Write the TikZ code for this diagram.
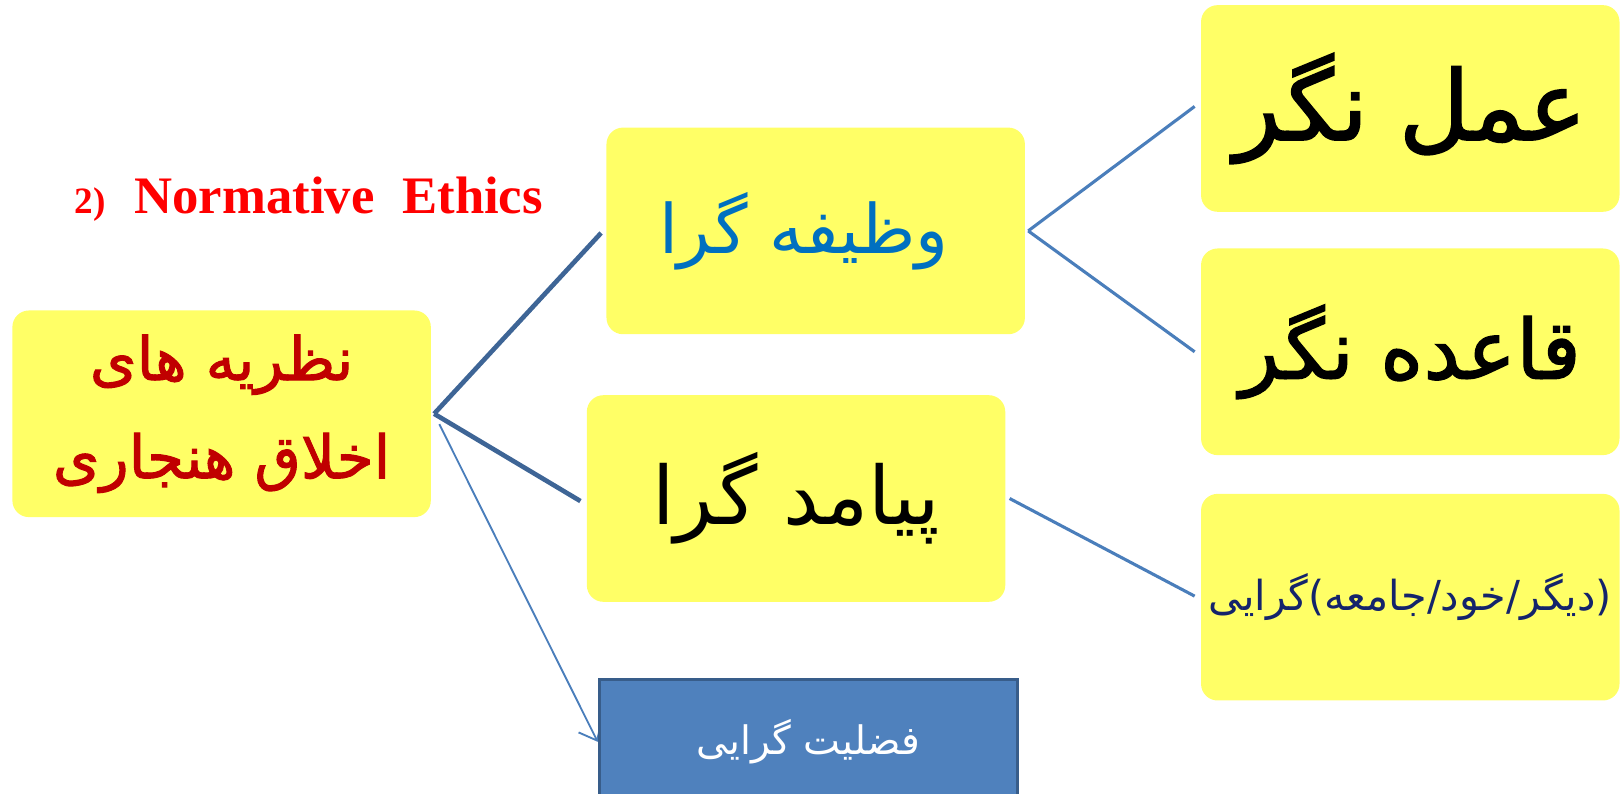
\documentclass[tikz,border=0pt]{standalone}
\usepackage{fontspec}
\setmainfont{Liberation Serif}
\newfontfamily\arabicfont[Script=Arabic]{DejaVu Sans}
\newfontfamily\arabicheavy[Script=Arabic,FakeBold=1.6]{DejaVu Sans}
\TeXXeTstate=1
\usetikzlibrary{arrows.meta,backgrounds}
\definecolor{boxyellow}{HTML}{FFFF66}
\definecolor{rootred}{HTML}{C00000}
\definecolor{dutyblue}{HTML}{0070C0}
\definecolor{navytext}{HTML}{14246B}
\definecolor{darkline}{HTML}{3E6596}
\definecolor{lightline}{HTML}{4A7EBB}
\definecolor{virtuefill}{HTML}{4F81BD}
\definecolor{virtueedge}{HTML}{385D8A}
\definecolor{titlered}{HTML}{FF0000}
\tikzset{
  ybox/.style={fill=boxyellow, draw=none, rounded corners=16pt, minimum width=405pt,
    minimum height=200pt, inner sep=0pt, align=center},
  vbox/.style={fill=virtuefill, draw=virtueedge, line width=3pt, minimum width=405pt,
    minimum height=120pt, inner sep=0pt, align=center, text=white},
  thickconn/.style={draw=darkline, line width=4.5pt},
  thinconn/.style={draw=lightline, line width=3pt},
  arrowconn/.style={draw=lightline, line width=1.8pt, -{Straight Barb[length=15pt,width=25pt,line width=1.8pt]}}
}
\begin{document}
\begin{tikzpicture}[x=1pt,y=-1pt]
\useasboundingbox (0,0) rectangle (1568,767.6);
% title
\node[anchor=base west, text=titlered, inner sep=0pt] (title) at (72,207)
  {\bfseries\fontsize{36}{40}\selectfont 2)\hspace{28pt}\fontsize{51}{60}\selectfont Normative\hspace{27pt}Ethics};
% boxes
\node[ybox, text=rootred, font=\fontsize{58}{95}\selectfont\arabicheavy] (root) at (214.5,400.5)
  {\beginR نظریه های\endR\\\beginR اخلاق هنجاری\endR};
\node[ybox, text=dutyblue, font=\fontsize{66}{75}\selectfont\arabicfont] (duty) at (789.5,223.5)
  {\beginR وظیفه گرا\endR\kern23pt};
\node[ybox, text=black, font=\fontsize{78}{88}\selectfont\arabicfont] (conseq) at (770.5,482.5)
  {\beginR پیامد گرا\endR};
\node[vbox, font=\fontsize{38}{44}\selectfont\arabicfont] (virtue) at (782.5,718)
  {\beginR فضلیت گرایی\endR};
\node[ybox, text=black, font=\fontsize{94}{100}\selectfont\arabicheavy] (act) at (1365,105)
  {\beginR عمل نگر\endR};
\node[ybox, text=black, font=\fontsize{80}{88}\selectfont\arabicheavy] (rule) at (1365,340.5)
  {\beginR قاعده نگر\endR};
\node[ybox, text=navytext, font=\fontsize{40}{48}\selectfont\arabicfont] (other) at (1365,578)
  {\beginR (دیگر/خود/جامعه)گرایی\endR};
% connectors
\coordinate (hub) at ([xshift=3pt]root.east);
\coordinate (hubb) at ([xshift=8pt,yshift=-10pt]root.east);
\begin{scope}[on background layer]
\draw[thickconn] (hub) -- ([xshift=-5pt,yshift=-2pt]duty.west);
\draw[thickconn] (hub) -- ([xshift=-6pt,yshift=-2.5pt]conseq.west);
\draw[arrowconn] (hubb) -- ([xshift=0pt,yshift=0pt]virtue.west);
\draw[thinconn] ([xshift=3pt]duty.east) -- ([xshift=-6pt,yshift=2pt]act.west);
\draw[thinconn] ([xshift=3pt]duty.east) -- ([xshift=-6pt]rule.west);
\draw[thinconn] ([xshift=4pt]conseq.east) -- ([xshift=-6pt,yshift=1pt]other.west);
\end{scope}
\end{tikzpicture}
\end{document}
